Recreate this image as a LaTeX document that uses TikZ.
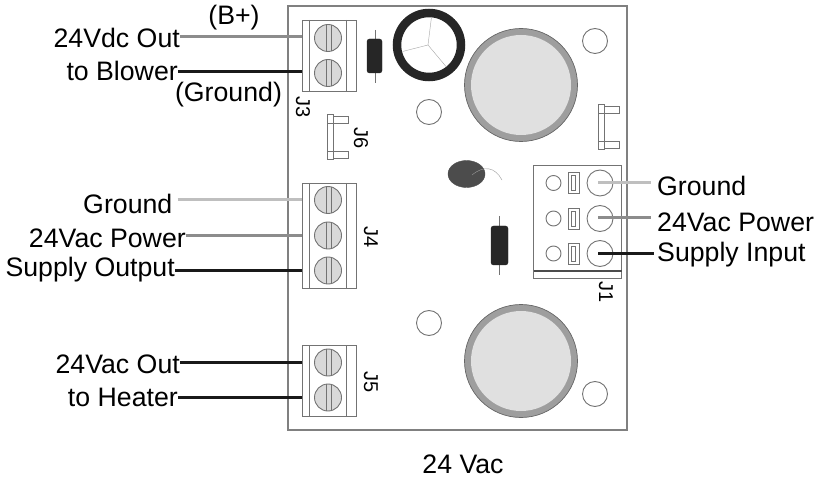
\documentclass[tikz,border=0pt]{standalone}
\usepackage{fontspec}
\setmainfont{Liberation Sans}
\tikzset{
    part/.style={draw=black!55, line width=0.9pt},
    wire/.style={line width=3pt},
    lbl/.style={font=\fontsize{26.7}{28}\selectfont, inner sep=0pt},
    tag/.style={font=\fontsize{20}{22}\selectfont, inner sep=0pt, rotate=-90},
}
\newcommand{\screwhead}[2]{
    \draw[part, fill=black!15] (#1,#2) circle (13.5);
    \draw[part] (#1-2,#2-13.2) -- (#1-2,#2+13.2) (#1+3,#2-13.2) -- (#1+3,#2+13.2);
}
\newcommand{\pinheader}[2]{
    \draw[part, fill=white] (#1,#2+2.5) rectangle (#1+21,#2+9);
    \draw[part, fill=white] (#1,#2+37.5) rectangle (#1+21,#2+44);
    \draw[part, fill=white] (#1,#2) rectangle (#1+6,#2+45);
    \draw[part] (#1,#2+9) -- (#1+6,#2+9) (#1,#2+37.5) -- (#1+6,#2+37.5);
}
\begin{document}
\begin{tikzpicture}[x=1pt, y=-1pt]
    \useasboundingbox (0,0) rectangle (819,478);
    \draw[draw=black!50, line width=1.2pt] (288,6) rectangle (627,430);

    % terminal blocks on the left
    \foreach \top/\bot in {20/91, 183/288, 345/416} {
        \draw[part] (302,\top) rectangle (356,\bot);
        \draw[part] (309.5,\top) -- (309.5,\bot) (346,\top) -- (346,\bot);
    }
    \foreach \y in {38, 73, 200, 235.5, 270.5, 362.5, 397.5} {
        \screwhead{328}{\y}
    }

    % capacitor
    \draw[black!85, line width=8.5pt, fill=white] (429,45) circle (32);
    \draw[black!35] (428,45) -- (431.5,17) (428,45) -- (402.5,51.5) (428,45) -- (446,66.5);

    % diodes
    \draw[part] (375,30) -- (375,83);
    \draw[fill=black!85, draw=black!85, rounded corners=2.5pt] (367,39) rectangle (382,73);
    \draw[part] (499.5,216) -- (499.5,275);
    \draw[fill=black!85, draw=black!85, rounded corners=2.5pt] (491,226) rectangle (508,265);

    % transistor
    \draw[fill=black!70, draw=black!70] (466.5,174) ellipse (18.5 and 13.5);
    \draw[black!40] (472,175) .. controls (484,165) and (495,167) .. (502,180);

    % big circles and holes
    \foreach \y in {85, 361} {
        \draw[draw=black!60, fill=black!38, line width=0.7pt] (521,\y) circle (56.5);
        \draw[draw=none, fill=black!12] (521,\y) circle (50);
    }
    \foreach \x/\y in {429/112, 595/41, 429/323, 595/394} {
        \draw[part] (\x,\y) circle (12.5);
    }

    % pin headers
    \pinheader{327}{114}
    \pinheader{598.5}{104}

    % connector J1
    \draw[part] (533.5,165) rectangle (621.5,278);
    \draw[black!70, line width=1.1pt] (533.5,271) -- (621.5,271);
    \foreach \y in {183, 218.5, 253.5} {
        \draw[part] (553.5,\y) circle (7.5);
        \draw[part] (568.5,\y-10.5) rectangle (579.5,\y+10.5);
        \draw[part] (571.5,\y-7.5) rectangle (575.5,\y+7.5);
        \draw[part] (600,\y) circle (13);
    }

    % labels on the left
    \node[lbl, anchor=east] (dcout) at (180,37.5) {24Vdc Out};
    \node[lbl, anchor=east] (blower) at (178,71) {to Blower};
    \node[lbl] (bplus) at (234,18) {(B+)};
    \node[lbl] (gndthree) at (228.5,95) {(Ground)};
    \node[lbl, anchor=east] (gndout) at (172.5,203.5) {Ground};
    \node[lbl, anchor=east] (acpower) at (186,238.5) {24Vac Power};
    \node[lbl, anchor=east] (supout) at (175,270) {Supply Output};
    \node[lbl, anchor=east] (acout) at (180,364) {24Vac Out};
    \node[lbl, anchor=east] (heater) at (178,397) {to Heater};

    % labels on the right
    \node[lbl, anchor=west] (gndin) at (657,185.5) {Ground};
    \node[lbl, anchor=west] (acin) at (657,222) {24Vac Power};
    \node[lbl, anchor=west] (supin) at (657,254.5) {Supply Input};
    \node[lbl] (vac) at (463,464) {24 Vac};

    % part names
    \node[tag] (jthree) at (303,107) {J3};
    \node[tag] (jsix) at (361,138) {J6};
    \node[tag] (jfour) at (371,237) {J4};
    \node[tag] (jfive) at (371,382) {J5};
    \node[tag] (jone) at (606,292) {J1};

    % wires
    \coordinate (pa) at (302,37);
    \coordinate (pb) at (302,72);
    \coordinate (pc) at (302,200);
    \coordinate (pd) at (302,235.5);
    \coordinate (pe) at (302,271);
    \coordinate (pf) at (302,362.5);
    \coordinate (pg) at (302,397.5);
    \coordinate (qa) at (598,183);
    \coordinate (qb) at (598,218);
    \coordinate (qc) at (598,253.5);
    \draw[wire, black!45] (dcout.east |- pa) -- (pa);
    \draw[wire, black!90] (blower.east |- pb) -- (pb);
    \draw[wire, black!25] (gndout.east |- pc) ++(5,0) -- (pc);
    \draw[wire, black!45] (acpower.east |- pd) -- (pd);
    \draw[wire, black!90] (supout.east |- pe) -- (pe);
    \draw[wire, black!90] (acout.east |- pf) -- (pf);
    \draw[wire, black!90] (heater.east |- pg) -- (pg);
    \draw[wire, black!25] (qa) -- ([xshift=-6pt]gndin.west |- qa);
    \draw[wire, black!45] (qb) -- ([xshift=-6pt]acin.west |- qb);
    \draw[wire, black!90] (qc) -- ([xshift=-3pt]supin.west |- qc);
\end{tikzpicture}
\end{document}
